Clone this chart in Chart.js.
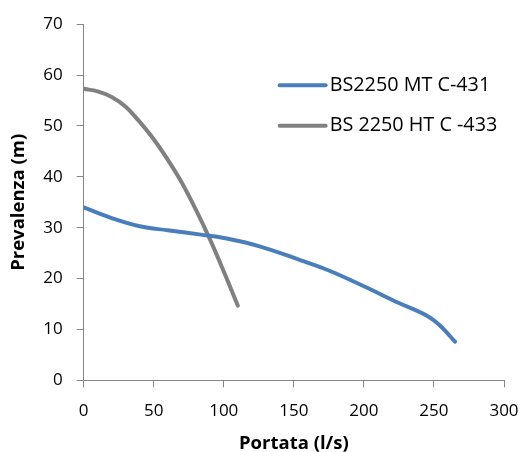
<!DOCTYPE html>
<html>
<head>
<meta charset="utf-8">
<script src="https://cdn.jsdelivr.net/npm/chart.js@4.4.1/dist/chart.umd.min.js"></script>
<style>
  html, body { margin: 0; padding: 0; background: #fff; }
  #wrap { width: 523px; height: 452px; }
</style>
</head>
<body>
<div id="wrap"><canvas id="pumpChart" width="523" height="452"></canvas></div>
<script>
// Curve data
const flowMT = [0, 20, 40, 60, 85, 100, 125, 155, 175, 200, 225, 245, 255, 265];
const headMT = [34.0, 31.9, 30.3, 29.5, 28.6, 28.0, 26.4, 23.6, 21.6, 18.5, 15.2, 12.7, 10.6, 7.6];
const flowHT = [0, 10, 20, 30, 40, 50, 60, 70, 80, 90, 100, 110];
const headHT = [57.3, 56.8, 55.7, 53.8, 50.8, 47.4, 43.4, 38.9, 33.6, 27.8, 21.4, 14.7];

const seriesNames = ['BS2250 MT C-431', 'BS 2250 HT C -433'];
const xTicks = { min: 0, max: 300, step: 50 };
const yTicks = { min: 0, max: 70, step: 10 };

const toPoints = (xs, ys) => xs.map((x, i) => ({ x: x, y: ys[i] }));

Chart.defaults.font.family = "'Open Sans', 'Liberation Sans', sans-serif";
Chart.defaults.color = '#000';

// Legend sits inside the plot, on the right
const insideLegend = {
    id: 'insideLegend',
    afterDraw(chart) {
        const ctx = chart.ctx;
        const area = chart.chartArea;
        const left = area.left + 196;
        let top = area.top + 61;
        ctx.save();
        ctx.font = "19.8px 'Open Sans', sans-serif";
        ctx.textBaseline = 'middle';
        chart.data.datasets.forEach(ds => {
            ctx.strokeStyle = ds.borderColor;
            ctx.lineWidth = 4;
            ctx.lineCap = 'round';
            ctx.beginPath();
            ctx.moveTo(left, top);
            ctx.lineTo(left + 46, top);
            ctx.stroke();
            ctx.fillStyle = '#000';
            ctx.fillText(ds.label, left + 50, top);
            top += 40.5;
        });
        ctx.restore();
    }
};

const ctx = document.getElementById('pumpChart').getContext('2d');
const pumpChart = new Chart(ctx, {
    type: 'line',
    data: {
        datasets: [
            {
                label: seriesNames[0],
                data: toPoints(flowMT, headMT),
                borderColor: '#4A7EBB',
                borderWidth: 4,
                pointRadius: 0,
                tension: 0.4,
                borderCapStyle: 'round',
                fill: false
            },
            {
                label: seriesNames[1],
                data: toPoints(flowHT, headHT),
                borderColor: '#808080',
                borderWidth: 4,
                pointRadius: 0,
                tension: 0.4,
                borderCapStyle: 'round',
                fill: false
            }
        ]
    },
    options: {
        responsive: false,
        animation: false,
        layout: { padding: { left: 8, right: 19, top: 18, bottom: 0 } },
        plugins: {
            legend: { display: false },
            tooltip: { enabled: false }
        },
        scales: {
            x: {
                type: 'linear',
                min: xTicks.min,
                max: xTicks.max,
                afterFit(scale) { scale.paddingRight = 0; },
                ticks: { stepSize: xTicks.step, font: { size: 17 }, padding: 14 },
                grid: { drawOnChartArea: false, drawTicks: true, tickLength: 7, color: '#868686' },
                border: { color: '#868686', width: 1 },
                title: { display: true, text: 'Portata (l/s)', font: { size: 18.5, weight: 'bold' }, padding: { top: -3, bottom: -3 } }
            },
            y: {
                min: yTicks.min,
                max: yTicks.max,
                ticks: { stepSize: yTicks.step, font: { size: 17 }, padding: 14 },
                grid: { drawOnChartArea: false, drawTicks: true, tickLength: 7, color: '#868686' },
                border: { color: '#868686', width: 1 },
                title: { display: true, text: 'Prevalenza (m)', font: { size: 18.5, weight: 'bold' }, padding: { top: 0, bottom: -1 } }
            }
        }
    },
    plugins: [insideLegend]
});
</script>
</body>
</html>
